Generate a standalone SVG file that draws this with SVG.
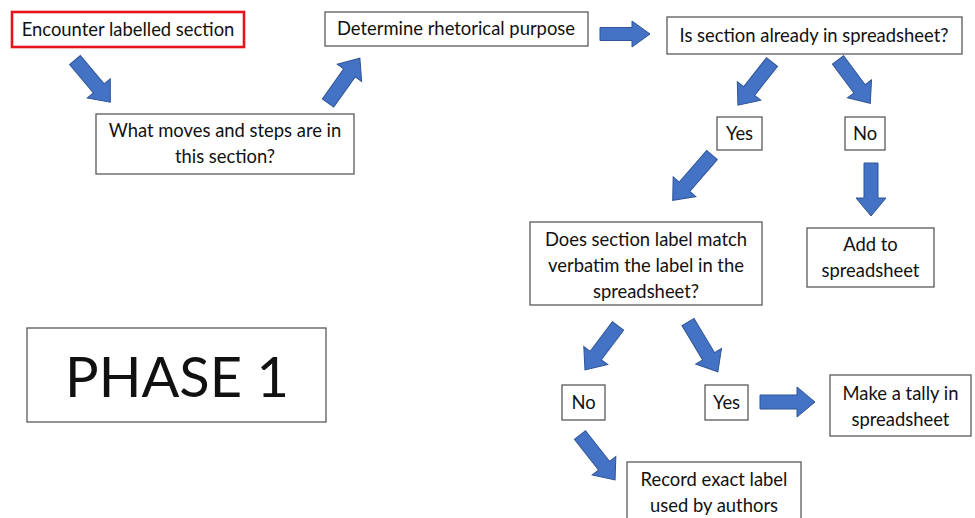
<svg xmlns="http://www.w3.org/2000/svg" width="975" height="518" viewBox="0 0 975 518">
<style>
.box{fill:#fff;stroke:#595959;stroke-width:1.3}
.red{fill:#fff;stroke:#e8141c;stroke-width:2.6}
.t{font-family:Lato,"Open Sans",sans-serif;font-size:18.4px;fill:#111;text-anchor:middle}
.big{font-family:Lato,"Open Sans",sans-serif;font-size:56px;fill:#111;text-anchor:middle}
.arr{fill:#4472c4;stroke:#2f5597;stroke-width:1}
</style>
<rect width="975" height="518" fill="#fff"/>
<g id="connectors">
<polygon class="arr" transform="translate(75,60) rotate(50)" points="0,-7 37,-7 37,-15 55,0 37,15 37,7 0,7"/>
<polygon class="arr" transform="translate(328,103) rotate(-54.6)" points="0,-7 37,-7 37,-15 55,0 37,15 37,7 0,7"/>
<polygon class="arr" transform="translate(600,34)" points="0,-6.5 32,-6.5 32,-13 50,0 32,13 32,6.5 0,6.5"/>
<polygon class="arr" transform="translate(772,62) rotate(128.3)" points="0,-7 37,-7 37,-15 55,0 37,15 37,7 0,7"/>
<polygon class="arr" transform="translate(838,60) rotate(53.3)" points="0,-7 36,-7 36,-15 54,0 36,15 36,7 0,7"/>
<polygon class="arr" transform="translate(712,155) rotate(130.9)" points="0,-7 42,-7 42,-15 60,0 42,15 42,7 0,7"/>
<polygon class="arr" transform="translate(871,163) rotate(90)" points="0,-7 35,-7 35,-15 53,0 35,15 35,7 0,7"/>
<polygon class="arr" transform="translate(618,326) rotate(126.9)" points="0,-7 37,-7 37,-15 55,0 37,15 37,7 0,7"/>
<polygon class="arr" transform="translate(688,322) rotate(59)" points="0,-7 40,-7 40,-15 58,0 40,15 40,7 0,7"/>
<polygon class="arr" transform="translate(760,402)" points="0,-7 37,-7 37,-15 55,0 37,15 37,7 0,7"/>
<polygon class="arr" transform="translate(580,435) rotate(52)" points="0,-7 39,-7 39,-15 57,0 39,15 39,7 0,7"/>
</g>
<g id="encounter"><rect class="red" x="12" y="12" width="232" height="35"/><text class="t" x="128" y="36">Encounter labelled section</text></g>
<g id="moves"><rect class="box" x="96" y="114" width="258" height="60"/><text class="t" x="225" y="137">What moves and steps are in</text><text class="t" x="225" y="163">this section?</text></g>
<g id="determine"><rect class="box" x="325" y="12" width="263" height="34"/><text class="t" x="456" y="35">Determine rhetorical purpose</text></g>
<g id="already"><rect class="box" x="667" y="17" width="295" height="37"/><text class="t" x="814" y="42">Is section already in spreadsheet?</text></g>
<g id="yes1"><rect class="box" x="717" y="117" width="45" height="33"/><text class="t" x="739.5" y="140">Yes</text></g>
<g id="no1"><rect class="box" x="845" y="117" width="40" height="33"/><text class="t" x="865" y="140">No</text></g>
<g id="match"><rect class="box" x="530" y="222" width="232" height="83"/><text class="t" x="646" y="246">Does section label match</text><text class="t" x="646" y="272">verbatim the label in the</text><text class="t" x="646" y="298">spreadsheet?</text></g>
<g id="add"><rect class="box" x="807" y="228" width="127" height="59"/><text class="t" x="870.5" y="251">Add to</text><text class="t" x="870.5" y="277">spreadsheet</text></g>
<g id="phase"><rect class="box" x="27" y="328" width="299" height="94"/><text class="big" x="177" y="397">PHASE 1</text></g>
<g id="no2"><rect class="box" x="562" y="385" width="43" height="35"/><text class="t" x="583.5" y="409">No</text></g>
<g id="yes2"><rect class="box" x="705" y="385" width="43" height="35"/><text class="t" x="726.5" y="409">Yes</text></g>
<g id="tally"><rect class="box" x="830" y="375" width="141" height="61"/><text class="t" x="900.5" y="400">Make a tally in</text><text class="t" x="900.5" y="426">spreadsheet</text></g>
<g id="record"><rect class="box" x="627" y="462" width="174" height="62"/><text class="t" x="714" y="486">Record exact label</text><text class="t" x="714" y="512">used by authors</text></g>
</svg>
